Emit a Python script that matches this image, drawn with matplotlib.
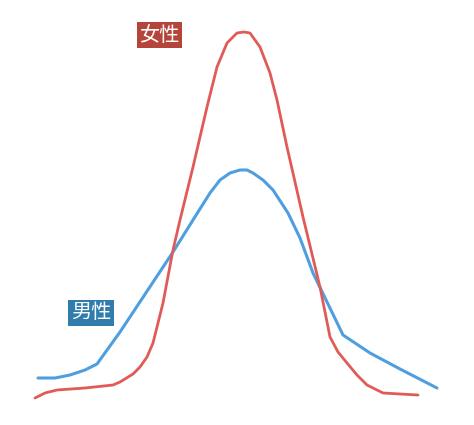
import matplotlib.pyplot as plt

plt.rcParams['font.family'] = ['Noto Sans CJK SC', 'DejaVu Sans']

# values (x = position, y = height above the bottom)
male_x = [38, 55, 70, 85, 97, 120, 173, 193, 210, 220, 230, 240, 247, 253, 263, 273,
          288, 300, 313, 343, 370, 400, 437]
male_y = [47, 47, 50, 55, 61, 93, 173, 205, 232, 245, 252, 255, 255, 252, 245, 235,
          212, 187, 152, 90, 72, 56, 37]

female_x = [35, 45, 57, 85, 113, 120, 133, 140, 147, 153, 163, 173, 180, 193, 207, 217,
            227, 237, 244, 250, 260, 270, 277, 287, 303, 320, 330, 338, 347, 357, 367,
            383, 400, 418]
female_y = [27, 32, 35, 37, 40, 43, 51, 58, 68, 82, 122, 175, 205, 258, 318, 358,
            382, 392, 393, 392, 378, 352, 325, 278, 208, 138, 88, 73, 62, 50, 40,
            32, 31, 30]

female_label = "女性"
male_label = "男性"

fig = plt.figure(figsize=(4.74, 4.25), dpi=100)
ax = fig.add_axes([0, 0, 1, 1])
ax.set_xlim(0, 474)
ax.set_ylim(0, 425)
ax.axis('off')

ax.plot(male_x, male_y, color='#4f9fe0', lw=2.2, solid_capstyle='round', solid_joinstyle='round')
ax.plot(female_x, female_y, color='#e05b57', lw=2.0, solid_capstyle='round', solid_joinstyle='round')

# labels in coloured boxes
ax.text(159.5, 390, female_label, color='white', fontsize=14.5, ha='center', va='center',
        bbox=dict(boxstyle='square,pad=0.12', fc='#b5443a', ec='none'))
ax.text(91, 112, male_label, color='white', fontsize=14.5, ha='center', va='center',
        bbox=dict(boxstyle='square,pad=0.12', fc='#2f7cad', ec='none'))

fig.savefig('out.png', dpi=100)
